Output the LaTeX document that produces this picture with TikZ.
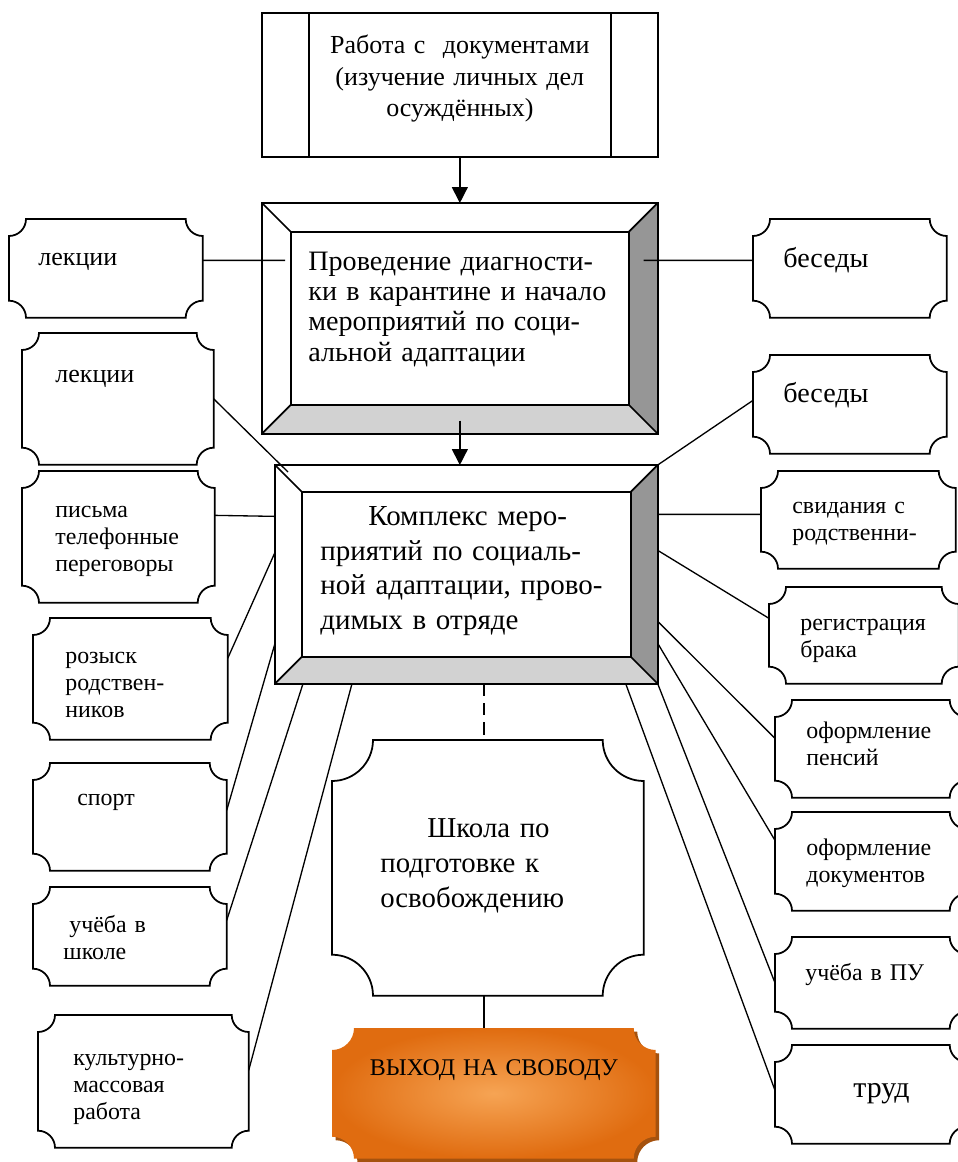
\documentclass[tikz,border=0pt]{standalone}
\usepackage{fontspec}
\setmainfont{Liberation Serif}
\usetikzlibrary{arrows.meta,backgrounds}

\definecolor{darkside}{RGB}{150,150,150}
\definecolor{lightside}{RGB}{210,210,210}
\definecolor{freeout}{RGB}{224,108,16}
\definecolor{freein}{RGB}{246,164,84}
\definecolor{freeshadow}{RGB}{165,82,14}

\newcommand{\fsmall}{\fontsize{13.6}{15.3}\selectfont}
\newcommand{\fmid}{\fontsize{14.8}{17}\selectfont}
\newcommand{\ftalk}{\fontsize{16}{18}\selectfont}
\newcommand{\fdoc}{\fontsize{14.8}{18.1}\selectfont}
\newcommand{\fdiag}{\fontsize{16}{17.2}\selectfont}
\newcommand{\fkompl}{\fontsize{16.5}{19.8}\selectfont}
\newcommand{\fprep}{\fontsize{16.4}{20.1}\selectfont}
\newcommand{\ftrud}{\fontsize{17}{19}\selectfont}
\newcommand{\ffree}{\fontsize{13.6}{16}\selectfont}

% frame with concave corners round a node
\newcommand{\plaqueframe}[3][]{%
  \draw[boxline,#1] (#2.north west) ++(0,-#3) arc[start angle=-90,end angle=0,radius=#3]
    -- ([xshift=-#3]#2.north east) arc[start angle=180,end angle=270,radius=#3]
    -- ([yshift=#3]#2.south east) arc[start angle=90,end angle=180,radius=#3]
    -- ([xshift=#3]#2.south west) arc[start angle=0,end angle=90,radius=#3]
    -- cycle;}

% bevelled frame round a node
\newcommand{\bevelframe}[2]{%
  \fill[darkside] (#1.north east) -- (#1.south east) -- ([shift={(-#2,#2)}]#1.south east) -- ([shift={(-#2,-#2)}]#1.north east) -- cycle;
  \fill[lightside] (#1.south west) -- (#1.south east) -- ([shift={(-#2,#2)}]#1.south east) -- ([shift={(#2,#2)}]#1.south west) -- cycle;
  \draw[boxline] (#1.north west) rectangle (#1.south east);
  \draw[boxline] ([shift={(#2,-#2)}]#1.north west) rectangle ([shift={(-#2,#2)}]#1.south east);
  \foreach \a/\sx/\sy in {north west/1/-1, north east/-1/-1, south east/-1/1, south west/1/1}
    \draw[boxline] (#1.\a) -- ([shift={(\sx*#2,\sy*#2)}]#1.\a);}

\tikzset{
  boxline/.style={line width=1pt},
  link/.style={line width=0.75pt},
  arr/.style={line width=0.8pt, -{Triangle[length=9pt,width=9pt]}},
  % width, height, left pad, first baseline (all in px of the reference)
  pbox/.style n args={4}{anchor=north west, inner ysep=0pt, align=left,
    minimum width=#1*0.02cm, inner xsep=#3*0.02cm, text width=(#1-2*#3)*0.02cm,
    text height=#4*0.02cm, text depth=(#2-#4)*0.02cm},
}

\begin{document}
\begin{tikzpicture}[x=0.02cm, y=0.02cm]
	\useasboundingbox (0,0) rectangle (957,-1162);

	% main column
	\node[pbox={395}{143}{50}{40}, align=center, font=\fdoc] (docs) at (262,-13) {Работа с~~документами\\(изучение~личных~дел\\осуждённых)};
	\node[pbox={395}{230}{46}{67}, font=\fdiag] (diag) at (262,-203) {Проведение~диагности-\\ки~в~карантине~и~начало\\мероприятий~по~соци-\\альной~адаптации};
	\node[pbox={382}{218}{45}{60}, font=\fkompl] (complex) at (275,-465) {\hspace*{0.96cm}Комплекс~меро-\\приятий~по~социаль-\\ной~адаптации,~прово-\\димых~в~отряде};
	\node[pbox={311}{255}{48}{97}, font=\fprep] (prep) at (332,-740) {\hspace*{0.94cm}Школа~по\\подготовке~к\\освобождению};
	\node[pbox={323}{130}{20}{47}, align=center, font=\ffree] (free) at (332,-1028) {ВЫХОД~НА~СВОБОДУ};

	% left column
	\node[pbox={193}{98}{29}{46}, font=\fmid] (lec1) at (9,-219) {лекции};
	\node[pbox={191}{131}{33}{49}, font=\fmid] (lec2) at (22,-333) {лекции};
	\node[pbox={192}{131}{33}{46}, font=\fsmall] (mail) at (22,-471) {письма\\телефонные\\переговоры};
	\node[pbox={194}{121}{32}{45}, font=\fsmall] (search) at (33,-618) {розыск\\родствен-\\ников};
	\node[pbox={193}{107}{44}{42}, font=\fsmall] (sport) at (33,-763) {спорт};
	\node[pbox={193}{98}{30}{45}, font=\fsmall] (study) at (33,-887) {\hspace*{0.25em}учёба~в\\школе};
	\node[pbox={210}{132}{35}{50}, font=\fsmall] (culture) at (38,-1015) {культурно-\\массовая\\работа};

	% right column
	\node[pbox={193}{98}{30}{48}, font=\ftalk] (talk1) at (753,-219) {беседы};
	\node[pbox={193}{98}{30}{47}, font=\ftalk] (talk2) at (753,-355) {беседы};
	\node[pbox={194}{97}{31}{42}, font=\fsmall] (visit) at (761,-471) {свидания~с\\родственни-};
	\node[pbox={189}{96}{31}{43}, font=\fsmall] (marriage) at (769,-587) {регистрация\\брака};
	\node[pbox={191}{97}{31}{38}, font=\fsmall] (pension) at (775,-700) {оформление\\пенсий};
	\node[pbox={191}{98}{31}{43}, font=\fsmall] (papers) at (775,-812) {оформление\\документов};
	\node[pbox={191}{91}{30}{43}, font=\fsmall] (trade) at (775,-937) {учёба~в~ПУ};
	\node[pbox={191}{98}{78}{52}, font=\ftrud] (work) at (775,-1045) {труд};

	% frames
	\draw[boxline] (docs.north west) rectangle (docs.south east);
	\draw[boxline] ([xshift=0.94cm]docs.north west) -- ([xshift=0.94cm]docs.south west);
	\draw[boxline] ([xshift=-0.94cm]docs.north east) -- ([xshift=-0.94cm]docs.south east);
	\bevelframe{diag}{0.58cm}
	\bevelframe{complex}{0.54cm}
	\foreach \n in {lec1,lec2,mail,search,sport,study,culture,talk1,talk2,visit,marriage,pension,papers,trade,work}
		{\plaqueframe{\n}{0.34cm}}
	\plaqueframe{prep}{0.82cm}
	\begin{pgfonlayer}{background}
		\plaqueframe[draw=none, fill=freeshadow, transform canvas={shift={(0.07cm,-0.07cm)}}]{free}{0.44cm}
		\plaqueframe[draw=none, inner color=freein, outer color=freeout]{free}{0.44cm}
	\end{pgfonlayer}

	% connectors
	\draw[arr] (docs) -- (diag);
	\draw[arr] ([yshift=0.26cm]diag.south) -- (diag.south |- complex.north);
	\draw[link] ([yshift=0.16cm]lec1.east) -- ([xshift=0.46cm,yshift=1.16cm]diag.west);
	\draw[link] ([xshift=-0.28cm,yshift=1.16cm]diag.east) -- ([yshift=0.16cm]talk1.west);

	\draw[link] (lec2.east) -- ([xshift=0.26cm,yshift=-0.14cm]complex.north west);
	\draw[link] ([yshift=0.43cm]mail.east) -- ([yshift=1.16cm]complex.west);
	\draw[link] ([yshift=0.41cm]search.east) -- ([yshift=0.44cm]complex.west);
	\draw[link] ([yshift=0.13cm]sport.east) -- ([yshift=-1.38cm]complex.west);
	\draw[link] ([yshift=0.32cm]study.east) -- ([xshift=0.56cm]complex.south west);
	\draw[link] ([yshift=0.22cm]culture.east) -- ([xshift=1.54cm]complex.south west);

	\draw[link] ([yshift=0.08cm]talk2.west) -- (complex.north east);
	\draw[link] ([yshift=1.2cm]complex.east) -- ([yshift=0.11cm]visit.west);
	\draw[link] ([yshift=0.48cm]complex.east) -- ([yshift=0.34cm]marriage.west);
	\draw[link] ([yshift=-0.94cm]complex.east) -- ([yshift=0.21cm]pension.west);
	\draw[link] ([yshift=-1.38cm]complex.east) -- ([yshift=0.42cm]papers.west);
	\draw[link] (complex.south east) -- (trade.west);
	\draw[link] ([xshift=-0.64cm]complex.south east) -- ([yshift=0.08cm]work.west);

	\draw[link, dash pattern=on 7pt off 4pt] ([xshift=-0.08cm]prep.north |- complex.south) -- ([xshift=-0.08cm]prep.north);
	\draw[link] ([xshift=-0.08cm]prep.south) -- ([xshift=-0.08cm]prep.south |- free.north);
\end{tikzpicture}
\end{document}
